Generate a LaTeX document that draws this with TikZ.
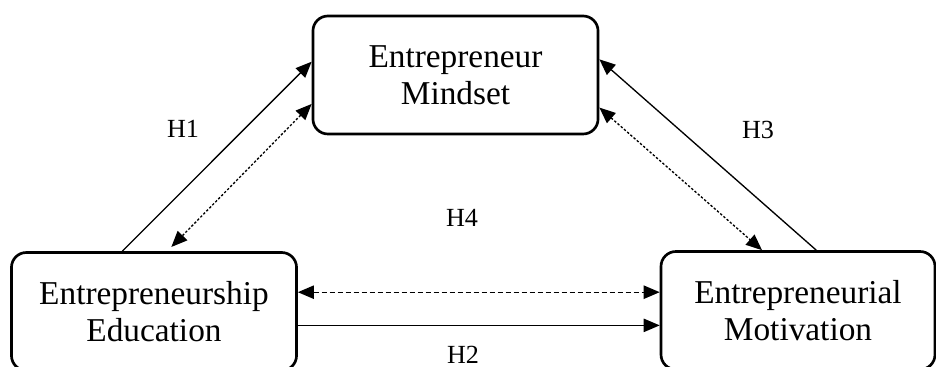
\documentclass[tikz,border=0pt]{standalone}
\usepackage{fontspec}
\setmainfont{Liberation Serif}
\usetikzlibrary{calc,arrows.meta}
\newcommand{\directlink}[2]{%
  \draw[->] (#1) -- (#2)}
\newcommand{\mutuallink}[3][]{%
  \draw[<->, fine dots, #1] (#2) -- (#3)}

\begin{document}
\begin{tikzpicture}[x=0.375pt, y=-0.375pt,
    construct/.style={rectangle, draw, line width=1pt, rounded corners=5.6pt,
      minimum width=106.9pt, minimum height=44.25pt, align=center,
      font=\fontsize{12.5}{13.9}\selectfont},
    hyp/.style={font=\fontsize{9.8}{11}\selectfont},
    fine dots/.style={dash pattern=on 0.9pt off 0.7pt},
    long dash/.style={dash pattern=on 1.9pt off 1.1pt},
    >={Triangle[length=6pt, width=5pt]}, line width=0.5pt]
  \useasboundingbox (0,0) rectangle (936,367);

  \node[construct] (mindset) at (455.5,75) {Entrepreneur\\Mindset};
  \node[construct] (education) at (154,311.5) {Entrepreneurship\\Education};
  \node[construct, minimum width=102.75pt] (motivation) at (798,310.5)
    {Entrepreneurial\\Motivation};

  % ends on the box borders
  \coordinate (edu-h1) at ($(education.north west)!0.39!(education.north east)$);
  \coordinate (edu-h4) at ($(education.north west)!0.546!(education.north east)$);
  \coordinate (mind-h1) at ($(mindset.north west)!0.39!(mindset.south west)$);
  \coordinate (mind-h4l) at ($(mindset.north west)!0.74!(mindset.south west)$);
  \coordinate (mind-h3) at ($(mindset.north east)!0.37!(mindset.south east)$);
  \coordinate (mind-h4r) at ($(mindset.north east)!0.77!(mindset.south east)$);
  \coordinate (mot-h3) at ($(motivation.north west)!0.566!(motivation.north east)$);
  \coordinate (mot-h4) at ($(motivation.north west)!0.37!(motivation.north east)$);
  \coordinate (edu-h4h) at ($(education.north east)!0.34!(education.south east)$);
  \coordinate (edu-h2) at ($(education.north east)!0.615!(education.south east)$);

  \directlink{edu-h1}{mind-h1};
  \mutuallink[shorten >=2.2pt]{mind-h4l}{edu-h4};
  \directlink{mot-h3}{mind-h3};
  \mutuallink{mind-h4r}{mot-h4};
  \draw[<->, long dash] (edu-h4h) -- (edu-h4h -| motivation.west);
  \directlink{edu-h2}{edu-h2 -| motivation.west};

  \node[hyp] (h1) at (183,129) {H1};
  \node[hyp] (h3) at (758,130) {H3};
  \node[hyp] (h4) at (462,218) {H4};
  \node[hyp, inner sep=0pt] (h2) at (463,355) {H2};
\end{tikzpicture}
\end{document}
